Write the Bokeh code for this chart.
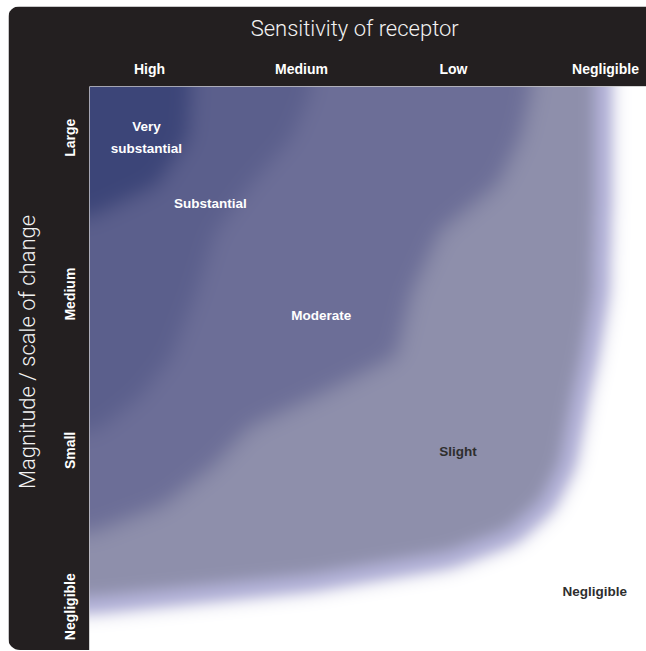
import numpy as np
from bokeh.plotting import figure
from bokeh.models import Range1d, FixedTicker, ColumnDataSource, LinearAxis
from bokeh.core.properties import value
from bokeh.embed import file_html
from bokeh.resources import INLINE

# ------------------------------------------------------------------ data
sensitivity = ["High", "Medium", "Low", "Negligible"]        # x = 0..3
magnitude = ["Negligible", "Small", "Medium", "Large"]         # y = 0..3
zones = ["Negligible", "Slight", "Moderate", "Substantial", "Very substantial"]
x_title = "Sensitivity of receptor"
y_title = "Magnitude / scale of change"
x_title_at = 1.35      # band-title centre, in sensitivity units
y_title_at = 1.63      # band-title centre, in magnitude units

# outer edge of each zone (how far along the sensitivity axis it reaches)
# sampled at these magnitude positions (category units, top to bottom)
edge_mag = [3.3, 3.0, 2.7, 2.4, 2.0, 1.6, 1.35, 1.15, 0.9, 0.65, 0.45, 0.3, 0.15, 0.0, -0.25]
edge_slight = [2.99, 2.99, 2.99, 2.98, 2.97, 2.90, 2.84, 2.80, 2.75, 2.62, 2.39, 1.98, 1.06, -0.45, -1.0]
edge_moderate = [2.51, 2.44, 2.29, 1.91, 1.72, 1.62, 1.10, 0.66, 0.42, 0.09, -0.45, -1.0, -1.0, -1.0, -1.0]
edge_substantial = [1.06, 0.93, 0.66, 0.43, 0.30, 0.14, -0.06, -0.32, -1.0, -1.0, -1.0, -1.0, -1.0, -1.0, -1.0]
edge_very = [0.27, 0.25, 0.05, -0.6, -1.0, -1.0, -1.0, -1.0, -1.0, -1.0, -1.0, -1.0, -1.0, -1.0, -1.0]

zone_label_text = ["Very\nsubstantial", "Substantial", "Moderate", "Slight", "Negligible"]
zone_label_sens = [-0.02, 0.40, 1.13, 2.03, 2.93]
zone_label_mag = [3.0, 2.58, 1.86, 0.99, 0.10]

# ------------------------------------------------------------------ style
BAND = "#231f20"
zone_colors = ["#ffffff", "#8e8fab", "#6c6e97", "#5b5f8c", "#3c4578"]
halo_color = "#9e9cd8"
label_colors = ["#ffffff", "#ffffff", "#ffffff", "#2e2e2e", "#2e2e2e"]

W, H = 638, 644
BL, BT = 81, 80
col_px0, col_step = 60.0, 152.0     # first column centre, from frame left
row_px0, row_step = 51.3, 156.3     # top row centre, from frame top
fw, fh = W - BL, H - BT
x0 = -col_px0 / col_step
x1 = (fw - col_px0) / col_step
y1 = 3 + row_px0 / row_step
y0 = 3 - (fh - row_px0) / row_step

p = figure(width=W, height=H, output_backend="svg", toolbar_location=None,
           x_range=Range1d(x0, x1), y_range=Range1d(y0, y1),
           x_axis_location="above", y_axis_location="left",
           min_border_left=BL, min_border_top=BT, min_border_right=0, min_border_bottom=0)
p.border_fill_color = BAND
p.background_fill_color = "white"
p.outline_line_color = None
p.grid.visible = False
p.styles = {"margin-left": "8px", "margin-top": "6px",
            "border-top-left-radius": "12px", "border-bottom-left-radius": "12px",
            "border-top-right-radius": "0px", "border-bottom-right-radius": "0px",
            "overflow": "hidden"}

# ------------------------------------------------------------------ zone image
nx, ny = fw, fh
xs = x0 + (np.arange(nx) + 0.5) * (x1 - x0) / nx
ys = y0 + (np.arange(ny) + 0.5) * (y1 - y0) / ny
X = np.broadcast_to(xs[None, :], (ny, nx))
mag_asc = np.array(edge_mag)[::-1]
level = np.zeros((ny, nx), dtype=int)
for edge in (edge_slight, edge_moderate, edge_substantial, edge_very):
    lim = np.interp(ys, mag_asc, np.array(edge)[::-1])
    level += (X < lim[:, None]).astype(int)


def hex_rgb(c):
    return [int(c[i:i + 2], 16) for i in (1, 3, 5)]


rgb_table = np.array([hex_rgb(c) for c in zone_colors], float)
rgb = rgb_table[level]


def blur(a, sigma):
    r = int(3 * sigma)
    k = np.exp(-0.5 * (np.arange(-r, r + 1) / sigma) ** 2)
    k /= k.sum()
    pad = np.pad(a, ((r, r), (0, 0), (0, 0)), mode="edge")
    out = np.zeros_like(a)
    for i, w in enumerate(k):
        out += w * pad[i:i + a.shape[0]]
    pad = np.pad(out, ((0, 0), (r, r), (0, 0)), mode="edge")
    out2 = np.zeros_like(a)
    for i, w in enumerate(k):
        out2 += w * pad[:, i:i + a.shape[1]]
    return out2


rgb = blur(rgb, 10.0)
cover = blur((level > 0).astype(float)[..., None], 10.0)
halo = 4 * cover * (1 - cover) * 0.45
rgb = rgb + halo * (np.array(hex_rgb(halo_color), float) - rgb)

img = np.empty((ny, nx, 4), dtype=np.uint8)
img[..., :3] = np.clip(np.round(rgb), 0, 255).astype(np.uint8)
img[..., 3] = 255
img32 = np.ascontiguousarray(img).view(np.uint32).reshape(ny, nx)
p.image_rgba(image=[img32], x=x0, y=y0, dw=x1 - x0, dh=y1 - y0)

# ------------------------------------------------------------------ zone labels
src = ColumnDataSource(dict(x=zone_label_sens, y=zone_label_mag,
                            text=zone_label_text, color=label_colors))
p.text(x="x", y="y", text="text", source=src, text_color="color",
       text_align="center", text_baseline="middle",
       text_font=value("Liberation Sans"), text_font_style="bold",
       text_font_size="13.5px", text_line_height=1.45)

# ------------------------------------------------------------------ axes
xa = p.xaxis[0]
xa.ticker = FixedTicker(ticks=list(range(len(sensitivity))))
xa.major_label_overrides = {i: s for i, s in enumerate(sensitivity)}
ya = p.yaxis[0]
ya.ticker = FixedTicker(ticks=list(range(len(magnitude))))
ya.major_label_overrides = {i: s for i, s in enumerate(magnitude)}
ya.major_label_orientation = "vertical"

# outer axes carrying the band titles
xt = LinearAxis(ticker=FixedTicker(ticks=[x_title_at]),
                major_label_overrides={x_title_at: x_title})
yt = LinearAxis(ticker=FixedTicker(ticks=[y_title_at]),
                major_label_overrides={y_title_at: y_title},
                major_label_orientation="vertical")
p.add_layout(xt, "above")
p.add_layout(yt, "left")

for ax in (xa, ya, xt, yt):
    ax.axis_line_color = None
    ax.major_tick_line_color = None
    ax.minor_tick_line_color = None
    ax.major_tick_out = 0
    ax.major_tick_in = 0
for ax in (xa, ya):
    ax.major_label_text_color = "white"
    ax.major_label_text_font = "Liberation Sans"
    ax.major_label_text_font_style = "bold"
    ax.major_label_text_font_size = "14px"
for ax in (xt, yt):
    ax.major_label_text_color = "#f2f2f2"
    ax.major_label_text_font = "Roboto Light"
    ax.major_label_text_font_style = "normal"
    ax.major_label_text_font_size = "22px"
xa.major_label_standoff = 10
ya.major_label_standoff = 11
xt.major_label_standoff = 17
yt.major_label_standoff = 19

open("out.html", "w").write(file_html(p, INLINE))
